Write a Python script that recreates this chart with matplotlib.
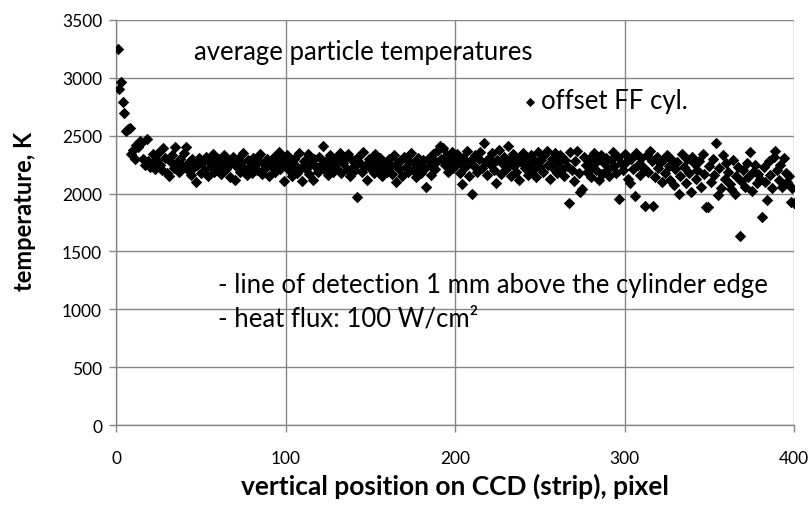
import matplotlib
matplotlib.use("Agg")
import matplotlib.pyplot as plt
import numpy as np

plt.rcParams['font.family'] = ['Lato', 'DejaVu Sans']

pixel = list(range(1, 401))
temperature = [
    3250, 2900, 2960, 2790, 2700, 2540, 2560, 2570, 2340, 2380,
    2300, 2420, 2400, 2450, 2440, 2300, 2250, 2470, 2280, 2230,
    2260, 2340, 2210, 2290, 2350, 2250, 2200, 2390, 2310, 2180,
    2150, 2280, 2330, 2220, 2400, 2260, 2190, 2300, 2240, 2350,
    2400, 2210, 2270, 2160, 2300, 2230, 2100, 2250, 2310, 2180,
    2260, 2200, 2320, 2150, 2280, 2240, 2340, 2190, 2270, 2220,
    2300, 2170, 2250, 2330, 2210, 2280, 2140, 2260, 2320, 2120,
    2240, 2300, 2190, 2270, 2350, 2210, 2160, 2290, 2230, 2180,
    2310, 2250, 2200, 2280, 2340, 2170, 2260, 2220, 2300, 2150,
    2270, 2230, 2320, 2190, 2250, 2360, 2210, 2290, 2110, 2240,
    2330, 2200, 2270, 2150, 2300, 2240, 2180, 2350, 2220, 2110,
    2280, 2210, 2340, 2170, 2260, 2120, 2300, 2230, 2190, 2320,
    2250, 2410, 2200, 2280, 2160, 2330, 2240, 2190, 2300, 2220,
    2270, 2350, 2180, 2260, 2310, 2210, 2340, 2150, 2290, 2230,
    2200, 1970, 2320, 2260, 2190, 2360, 2240, 2120, 2300, 2220,
    2280, 2180, 2340, 2250, 2200, 2310, 2150, 2270, 2230, 2190,
    2300, 2240, 2170, 2330, 2100, 2260, 2210, 2290, 2150, 2320,
    2230, 2190, 2280, 2350, 2200, 2260, 2140, 2310, 2240, 2180,
    2290, 2220, 2060, 2300, 2250, 2160, 2340, 2210, 2270, 2380,
    2410, 2300, 2390, 2250, 2330, 2190, 2280, 2360, 2220, 2300,
    2340, 2260, 2180, 2080, 2310, 2230, 2370, 2150, 2280, 2000,
    2240, 2330, 2190, 2300, 2360, 2220, 2440, 2270, 2160, 2310,
    2250, 2350, 2200, 2090, 2290, 2380, 2170, 2260, 2320, 2210,
    2410, 2280, 2150, 2340, 2240, 2190, 2300, 2120, 2270, 2350,
    2220, 2310, 2160, 2250, 2330, 2200, 2280, 2140, 2360, 2230,
    2290, 2190, 2340, 2370, 2250, 2130, 2300, 2220, 2350, 2180,
    2270, 2330, 2210, 2150, 2290, 2240, 1920, 2360, 2200, 2110,
    2280, 2370, 2180, 2010, 2040, 2320, 2250, 2190, 2300, 2140,
    2230, 2350, 2200, 2280, 2120, 2330, 2170, 2260, 2310, 2210,
    2150, 2290, 2360, 2240, 2180, 2320, 1950, 2260, 2200, 2340,
    2270, 2130, 2090, 2300, 2210, 1980, 2350, 2250, 2160, 2310,
    2230, 1890, 2330, 2190, 2370, 2280, 1890, 2140, 2320, 2220,
    2260, 2100, 2300, 2180, 2330, 2240, 2120, 2290, 2070, 2210,
    2270, 1995, 2150, 2340, 2230, 2090, 2300, 2180, 2010, 2320,
    2260, 2130, 2200, 2280, 2060, 2340, 2170, 1880, 1880, 2240,
    2100, 2300, 2160, 2440, 1990, 2220, 2050, 2330, 2130, 2260,
    2190, 2080, 2040, 2290, 2000, 2150, 2230, 1630, 2110, 2200,
    2060, 2260, 2140, 2355, 2020, 2190, 2250, 2090, 2170, 2130,
    1795, 2230, 2100, 1940, 2280, 2160, 2050, 2320, 2370, 2200,
    2120, 2250, 2060, 2310, 2180, 2100, 2150, 1930, 2050, 1920,
]
series_name = "offset FF cyl."
x_ticks = [0, 100, 200, 300, 400]
y_ticks = [0, 500, 1000, 1500, 2000, 2500, 3000, 3500]

fig = plt.figure(figsize=(8.09, 5.10), dpi=100)
ax = fig.add_axes([0.1434, 0.1647, 0.8381, 0.7942])

grid_c = '#868686'
ax.scatter(pixel, temperature, marker='D', s=34, color='black', linewidths=0,
           zorder=3, label=series_name)

ax.set_xlim(0, 400)
ax.set_ylim(0, 3500)
ax.set_xticks(x_ticks)
ax.set_yticks(y_ticks)
ax.grid(True, color=grid_c, linewidth=1.0, zorder=0)
for s in ['top', 'right']:
    ax.spines[s].set_visible(False)
for s in ['left', 'bottom']:
    ax.spines[s].set_color(grid_c)
    ax.spines[s].set_linewidth(1.0)
ax.tick_params(axis='both', colors=grid_c, length=5, width=1, labelsize=12.5,
               labelcolor='black', direction='out')
ax.tick_params(axis='x', pad=13)
ax.tick_params(axis='y', pad=5)

ax.set_xlabel("vertical position on CCD (strip), pixel", fontsize=19,
              fontweight='bold', labelpad=5)
ax.set_ylabel("temperature, K", fontsize=17, fontweight='bold')
ax.yaxis.set_label_coords(-0.118, 0.53)

ax.text(46, 3225, "average particle temperatures", fontsize=18.5,
        va='center', ha='left')
ax.text(60, 1212, "- line of detection 1 mm above the cylinder edge",
        fontsize=18.5, va='center', ha='left')
ax.text(60, 927, "- heat flux: 100 W/cm\u00b2", fontsize=18.5, va='center',
        ha='left')

leg = ax.legend(loc='center left', bbox_to_anchor=(0.595, 0.80), frameon=False,
                fontsize=18.5, handletextpad=0.05, handlelength=0.8,
                borderaxespad=0, borderpad=0, markerscale=0.8)

fig.savefig("out.png", dpi=100)
